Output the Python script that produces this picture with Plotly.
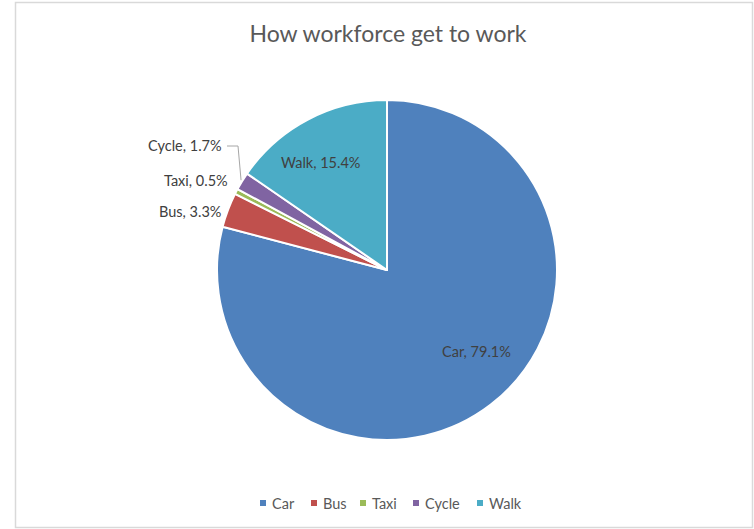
import math
import plotly.graph_objects as go

# ---- data ----
categories = ["Car", "Bus", "Taxi", "Cycle", "Walk"]
shares = [79.1, 3.3, 0.5, 1.7, 15.4]
colors = ["#4F81BD", "#C0504D", "#9BBB59", "#8064A2", "#4BACC6"]
title_text = "How workforce get to work"

# ---- layout helpers (pixel -> paper) ----
W, H = 754, 529
CX, CY, R = 387, 270, 170


def px(x):
    return x / W


def py(y):
    return 1 - y / H


FONT = "Lato, 'Open Sans', sans-serif"
LABEL_SIZE = 14.5

fig = go.Figure()
fig.add_trace(go.Pie(
    labels=categories,
    values=shares,
    sort=False,
    direction="clockwise",
    rotation=0,
    marker=dict(colors=colors, line=dict(color="white", width=2)),
    textinfo="none",
    hoverinfo="skip",
    showlegend=False,
    domain=dict(x=[px(CX - R), px(CX + R)], y=[py(CY + R), py(CY - R)]),
))

# data labels
labels = [f"{c}, {v}%" for c, v in zip(categories, shares)]
label_pos = {
    "Car": (477, 351, "center"),
    "Bus": (223, 211, "right"),
    "Taxi": (230, 181, "right"),
    "Cycle": (224, 146, "right"),
    "Walk": (320, 162, "center"),
}
annotations = []
for c, t in zip(categories, labels):
    x, y, anc = label_pos[c]
    annotations.append(dict(x=px(x), y=py(y), xref="paper", yref="paper",
                            text=t, showarrow=False, xanchor=anc, yanchor="middle",
                            font=dict(family=FONT, size=LABEL_SIZE, color="#404040")))

# leader line for Cycle: ends on the slice edge at its mid-angle
cum = sum(shares[:3])
mid = (cum + shares[3] / 2) / sum(shares) * 2 * math.pi
ex = CX + R * math.sin(mid)
ey = CY - R * math.cos(mid)
shapes = [
    dict(type="path", xref="paper", yref="paper",
         path=f"M {px(227)},{py(146)} L {px(238)},{py(146)} L {px(ex - 1)},{py(ey - 1)}",
         line=dict(color="#A6A6A6", width=1)),
    dict(type="rect", xref="paper", yref="paper",
         x0=px(15.5), x1=px(752.5), y0=py(527.5), y1=py(2.5),
         line=dict(color="#D9D9D9", width=1.5), layer="below"),
]

# legend (small squares + names), laid out along the bottom
legend_marker_x = [263, 314, 363, 416, 480]
LEG_Y = 503
for c, col, mx in zip(categories, colors, legend_marker_x):
    shapes.append(dict(type="rect", xref="paper", yref="paper",
                       x0=px(mx - 3), x1=px(mx + 3), y0=py(LEG_Y + 3), y1=py(LEG_Y - 3),
                       fillcolor=col, line=dict(width=0)))
    annotations.append(dict(x=px(mx + 7), y=py(LEG_Y), xref="paper", yref="paper",
                            text=c, showarrow=False, xanchor="left", yanchor="middle",
                            font=dict(family=FONT, size=LABEL_SIZE, color="#595959")))

fig.update_layout(
    width=W, height=H,
    margin=dict(l=0, r=0, t=0, b=0),
    paper_bgcolor="white", plot_bgcolor="white",
    title=dict(text=title_text, x=px(388), xanchor="center", y=py(34), yanchor="middle",
               font=dict(family=FONT, size=23, color="#595959")),
    annotations=annotations,
    shapes=shapes,
    showlegend=False,
)

fig.write_html("out.html", config={"displayModeBar": False},
               post_script="document.body.style.margin='0px';")
